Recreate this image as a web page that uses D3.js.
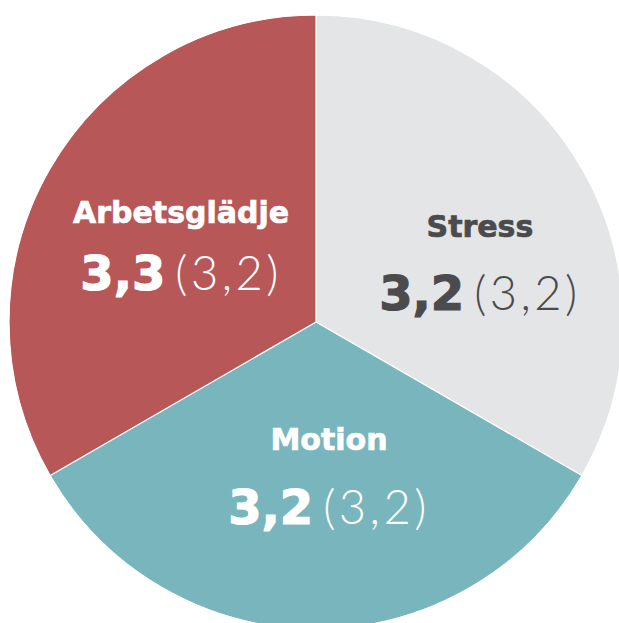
<!DOCTYPE html>
<html>
<head>
<meta charset="utf-8">
<script src="https://cdn.jsdelivr.net/npm/d3@7"></script>
<style>
html,body{margin:0;padding:0;background:#fff;overflow:hidden;}
svg{display:block;}
</style>
</head>
<body>
<svg id="chart" width="619" height="623"></svg>
<script>
const categories = ["Stress", "Motion", "Arbetsglädje"];
const shares = [1, 1, 1];
const values = ["3,2", "3,2", "3,3"];
const previous = ["(3,2)", "(3,2)", "(3,2)"];
const colors = ["#e4e5e7", "#78b5bc", "#b85758"];
const textColors = ["#4b4b4d", "#ffffff", "#ffffff"];

const cx = 316, cy = 322, r = 307;
// label nudges relative to arc centroid (title baseline)
const nudges = [[31, -8], [13, -26], [-2, -22]];
const numberGap = [73, 74, 67];

const svg = d3.select("#chart");
const g = svg.append("g").attr("transform", `translate(${cx},${cy})`);

const data = categories.map((c, i) => ({ c, share: shares[i], v: values[i], p: previous[i], i }));
const pie = d3.pie().sort(null).value(d => d.share).startAngle(0).endAngle(2 * Math.PI);
const arc = d3.arc().innerRadius(0).outerRadius(r);
const arcs = pie(data);

g.selectAll("path").data(arcs).join("path")
  .attr("d", arc)
  .attr("fill", d => colors[d.data.i])
  .attr("stroke", "#ffffff")
  .attr("stroke-width", 1.2);

const labels = g.selectAll("g.lab").data(arcs).join("g").attr("class", "lab")
  .attr("transform", d => {
    const c = arc.centroid(d);
    const n = nudges[d.data.i];
    return `translate(${c[0] + n[0]},${c[1] + n[1]})`;
  });

labels.append("text")
  .attr("text-anchor", "middle")
  .attr("font-family", "'DejaVu Sans', sans-serif")
  .attr("font-weight", 700)
  .attr("font-size", 30)
  .attr("fill", d => textColors[d.data.i])
  .attr("stroke", d => textColors[d.data.i])
  .attr("stroke-width", 0.7)
  .text(d => d.data.c);

const num = labels.append("text")
  .attr("text-anchor", "middle")
  .attr("y", d => numberGap[d.data.i])
  .attr("fill", d => textColors[d.data.i]);
num.append("tspan")
  .attr("font-family", "'DejaVu Sans', sans-serif")
  .attr("font-weight", 700)
  .attr("font-size", 48)
  .attr("stroke", d => textColors[d.data.i])
  .attr("stroke-width", 1.2)
  .text(d => d.data.v);
num.append("tspan")
  .attr("font-family", "Lato, sans-serif")
  .attr("font-weight", 300)
  .attr("font-size", 47)
  .attr("letter-spacing", 3.5)
  .attr("dx", 10)
  .text(d => d.data.p);
</script>
</body>
</html>
